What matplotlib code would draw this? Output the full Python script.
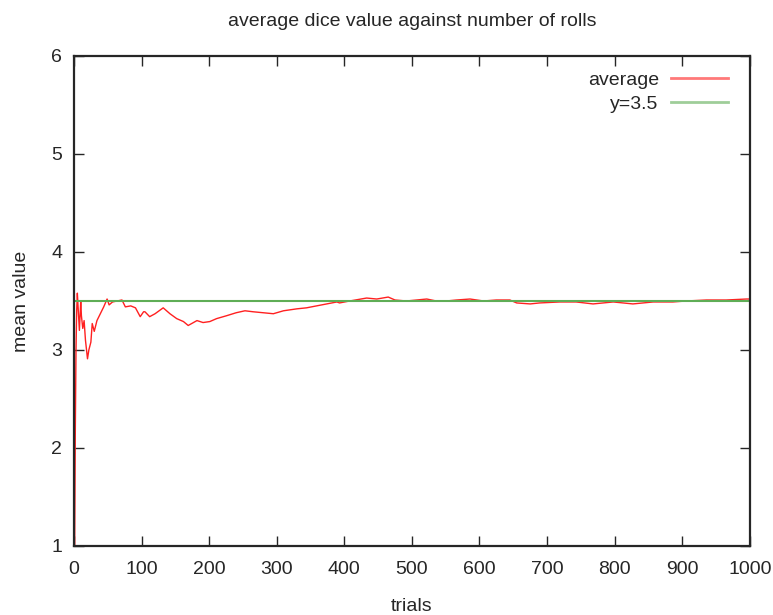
import matplotlib.pyplot as plt

# running mean
trials = [1, 2, 3, 4, 5, 6, 8, 10, 11, 13, 15, 17, 20, 22, 25, 27, 30, 34, 39,
          44, 49, 52, 57, 64, 71, 76, 84, 91, 98, 103, 105, 112, 120, 132, 142,
          152, 162, 169, 182, 191, 201, 211, 226, 240, 253, 265, 280, 295, 310,
          330, 344, 359, 374, 389, 393, 408, 433, 448, 465, 475, 492, 507, 522,
          536, 551, 566, 586, 606, 625, 645, 655, 675, 689, 719, 743, 768, 798,
          827, 857, 886, 906, 936, 965, 995, 1000]
average = [1.0, 2.2, 3.0, 3.4, 3.58, 3.45, 3.2, 3.5, 3.35, 3.22, 3.3, 3.1, 2.91,
           3.0, 3.08, 3.27, 3.19, 3.3, 3.37, 3.44, 3.52, 3.46, 3.49, 3.5, 3.51,
           3.44, 3.45, 3.43, 3.34, 3.39, 3.39, 3.34, 3.37, 3.43, 3.37, 3.32, 3.29,
           3.25, 3.30, 3.28, 3.29, 3.32, 3.35, 3.38, 3.40, 3.39, 3.38, 3.37, 3.40,
           3.42, 3.43, 3.45, 3.47, 3.49, 3.48, 3.50, 3.53, 3.52, 3.54, 3.51, 3.50,
           3.51, 3.52, 3.50, 3.50, 3.51, 3.52, 3.50, 3.51, 3.51, 3.48, 3.47, 3.48,
           3.49, 3.49, 3.47, 3.49, 3.47, 3.49, 3.49, 3.50, 3.51, 3.51, 3.52, 3.52]
expected = 3.5
x_ticks = list(range(0, 1001, 100))
y_ticks = [1, 2, 3, 4, 5, 6]

plt.rcParams['font.family'] = ['Liberation Sans', 'DejaVu Sans']
txt = "#262626"

fig = plt.figure(figsize=(7.73, 6.15), dpi=100)
ax = fig.add_axes([0.0957, 0.1122, 0.8743, 0.7968])

ax.plot(trials, average, color="#ff2020", linewidth=1.0, label="average")
ax.plot([0, 1000], [expected, expected], color="#5fad56", linewidth=1.5, label="y=3.5")

ax.set_xlim(0, 1000)
ax.set_ylim(1, 6)
ax.set_xticks(x_ticks)
ax.set_yticks(y_ticks)
ax.tick_params(direction="in", length=7, width=1, top=True, right=True,
               labelsize=14, colors=txt)
ax.tick_params(axis="x", pad=11)
ax.tick_params(axis="y", pad=8.5)
for side in ax.spines.values():
    side.set_linewidth(1.6)
    side.set_color(txt)

ax.set_title("average dice value against number of rolls", fontsize=14,
             color=txt, pad=21.5)
ax.set_xlabel("trials", fontsize=14, color=txt, labelpad=14)
ax.set_ylabel("mean value", fontsize=14, color=txt, labelpad=15)

leg = ax.legend(loc="upper right", bbox_to_anchor=(0.979, 0.984),
                borderaxespad=0, frameon=False, markerfirst=False,
                fontsize=14, handlelength=2.9, handletextpad=0.65,
                labelspacing=0.3)
for t in leg.get_texts():
    t.set_color(txt)
for h in leg.get_lines():
    h.set_linewidth(2)
    h.set_alpha(0.6)

fig.savefig("out.png", dpi=100)
